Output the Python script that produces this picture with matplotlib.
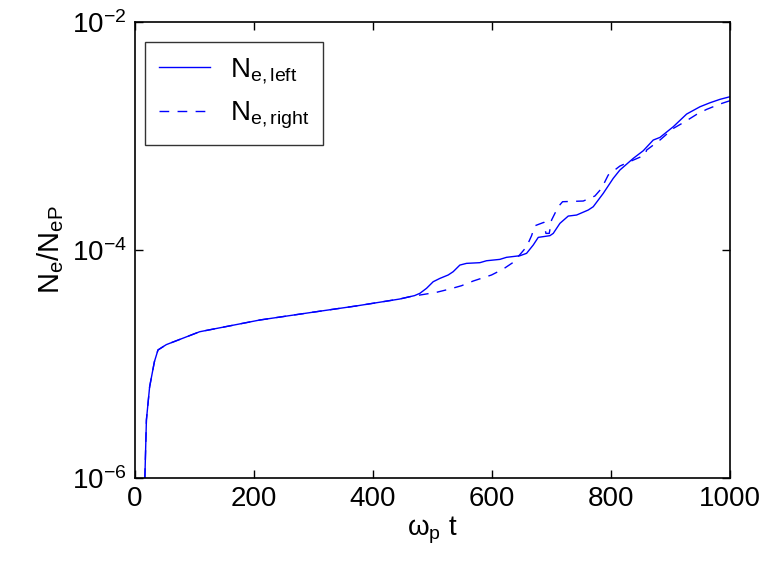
import matplotlib
matplotlib.use('Agg')
import matplotlib.pyplot as plt
import numpy as np

plt.rcParams['font.family'] = ['Liberation Sans', 'DejaVu Sans']
plt.rcParams['mathtext.fontset'] = 'custom'
plt.rcParams['mathtext.rm'] = 'Liberation Sans'
plt.rcParams['mathtext.it'] = 'Liberation Sans'

# shared early part (both curves coincide)
t_early = [17, 19.6, 25, 33, 39, 53, 109, 210, 300, 373, 445, 470]
log_early = [-6.0, -5.49, -5.20, -4.98, -4.877, -4.83, -4.717, -4.614, -4.545, -4.49, -4.43, -4.40]

# left side (solid)
t_left = [479.0, 490.2, 501.4, 512.6, 526.6, 535.0, 546.2, 557.4, 579.8, 591.0, 613.4,
          624.6, 647.1, 658.3, 669.5, 677.9, 697.5, 703.1, 714.3, 728.3, 742.3, 761.9,
          770.3, 787.1, 803.9, 815.1, 837.5, 854.3, 871.1, 882.4, 904.8, 927.2, 949.6,
          966.4, 983.2, 1000]
log_left = [-4.380, -4.336, -4.278, -4.249, -4.219, -4.190, -4.132, -4.117, -4.111, -4.094,
            -4.082, -4.064, -4.050, -4.029, -3.956, -3.889, -3.874, -3.854, -3.766, -3.702,
            -3.693, -3.649, -3.620, -3.503, -3.371, -3.298, -3.196, -3.129, -3.035, -3.012,
            -2.918, -2.807, -2.743, -2.708, -2.678, -2.655]

# right side (dashed)
t_right = [479.0, 507.0, 529.4, 549.0, 568.6, 599.4, 619.0, 635.9, 649.9, 658.3, 666.7,
           672.3, 687.4, 690.8, 696.4, 700.3, 711.5, 718.8, 753.6, 773.1, 784.3, 795.5,
           815.1, 837.5, 857.1, 860.0, 882.4, 904.8, 924.4, 944.0, 960.8, 983.2, 1000]
log_right = [-4.395, -4.371, -4.342, -4.313, -4.272, -4.219, -4.167, -4.108, -4.023, -3.971,
             -3.874, -3.787, -3.757, -3.854, -3.854, -3.737, -3.620, -3.576, -3.570, -3.526,
             -3.459, -3.342, -3.263, -3.211, -3.167, -3.123, -3.035, -2.933, -2.874, -2.810,
             -2.766, -2.719, -2.690]

tl = np.array(t_early + t_left)
yl = 10.0 ** np.array(log_early + log_left)
tr = np.array(t_early + t_right)
yr = 10.0 ** np.array(log_early + log_right)

fig = plt.figure(figsize=(7.7, 5.66), dpi=100)
ax = fig.add_axes([0.175, 0.1555, 0.773, 0.8055])

ax.semilogy(tl, yl, 'b-', lw=1.0, label=r'$\mathregular{N_{e,left}}$')
ax.semilogy(tr, yr, 'b--', lw=1.0, dashes=(7, 6), label=r'$\mathregular{N_{e,right}}$')

ax.set_xlim(0, 1000)
ax.set_ylim(1e-6, 1e-2)
ax.set_xticks([0, 200, 400, 600, 800, 1000])
ax.set_yticks([1e-6, 1e-4, 1e-2])
ax.minorticks_off()
ax.tick_params(direction='in', top=True, right=True, labelsize=20, length=6, width=1, pad=6)
for s in ax.spines.values():
    s.set_linewidth(1.2)

ax.set_xlabel(r'$\mathregular{ω_p\ t}$', fontsize=20, labelpad=2)
ax.set_ylabel(r'$\mathregular{N_e/N_{eP}}$', fontsize=21, labelpad=4)

leg = ax.legend(loc='upper left', bbox_to_anchor=(0.017, 0.956), fontsize=20,
                fancybox=False, edgecolor='black',
                handlelength=1.85, handletextpad=0.7, borderaxespad=0.0,
                labelspacing=0.5, borderpad=0.5)
leg.get_frame().set_linewidth(1.0)

fig.savefig('out.png', dpi=100)
